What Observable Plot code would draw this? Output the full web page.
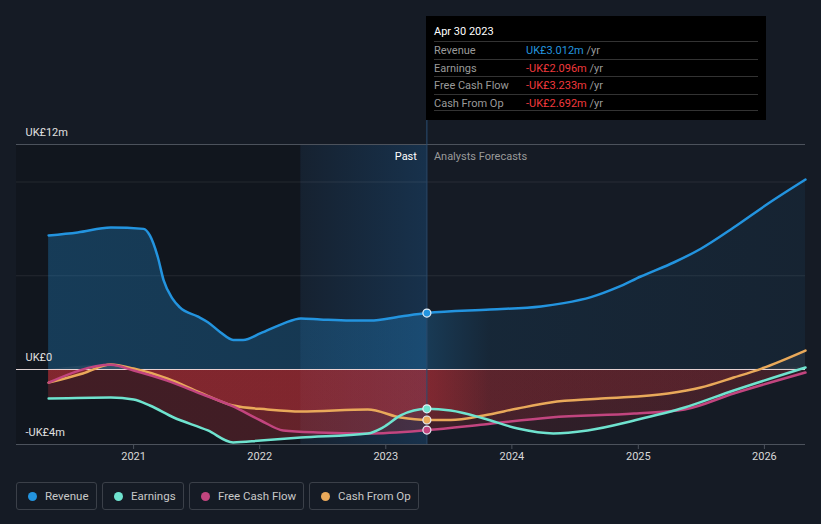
<!DOCTYPE html>
<html>
<head>
<meta charset="utf-8">
<script src="https://cdn.jsdelivr.net/npm/d3@7"></script>
<script src="https://cdn.jsdelivr.net/npm/@observablehq/plot@0.6"></script>
<style>
  html, body { margin:0; padding:0; background:#151b25; width:821px; height:524px; overflow:hidden; font-family: Roboto, "Noto Sans", sans-serif; }
  #wrap { position:relative; width:821px; height:524px; }
  #chart svg { display:block; overflow:visible; }
  #tip { position:absolute; left:426px; top:16px; width:340px; height:104px; background:#000; color:#999; font-size:11px; }
  #tip .date { position:absolute; left:8px; top:9px; color:#fff; font-size:11px; }
  #tip .row { position:absolute; left:8px; width:324px; height:17px; border-top:1px solid #333; }
  #tip .lab { position:absolute; top:2px; left:0; color:#9a9a9a; }
  #tip .val { position:absolute; top:2px; left:92px; white-space:nowrap; }
  #tip .unit { color:#9a9a9a; }
  #tip .last { position:absolute; left:8px; width:324px; top:94px; border-top:1px solid #333; }
  #legend { position:absolute; left:16px; top:482px; display:flex; gap:5px; }
  #legend .item { box-sizing:border-box; height:28px; border:1px solid #3b4049; border-radius:3px; display:flex; align-items:center; padding-left:11px; color:#c8c8c8; font-size:11.5px; }
  #legend .dot { width:9px; height:9px; border-radius:50%; margin-right:8px; }
</style>
</head>
<body>
<div id="wrap">
  <div id="chart"></div>
  <div id="tip"></div>
  <div id="legend"></div>
</div>
<script>
// ---------- data ----------
const seriesNames = ["Revenue", "Earnings", "Free Cash Flow", "Cash From Op"];
const seriesColors = ["#2394df", "#6fe3cf", "#c2457f", "#e9a95a"];

const revenueDates = ["2020-04-30","2020-07-23","2020-10-27","2021-01-30","2021-02-17","2021-03-12","2021-03-29","2021-04-23","2021-05-15","2021-07-05","2021-08-04","2021-09-09","2021-10-16","2021-11-14","2022-01-04","2022-03-10","2022-04-30","2022-06-25","2022-09-20","2022-11-17","2023-02-13","2023-04-30","2023-10-30","2024-03-25","2024-05-30","2024-08-17","2024-11-03","2025-01-08","2025-04-15","2025-07-01","2025-10-04","2026-01-12","2026-04-30"];
const revenueValues = [7.15,7.31,7.57,7.5,7.15,6.0,4.75,3.79,3.31,2.83,2.52,1.99,1.58,1.58,1.94,2.45,2.72,2.67,2.61,2.61,2.83,3.012,3.2,3.36,3.54,3.86,4.39,4.96,5.72,6.44,7.57,8.85,10.13];

const earningsDates = ["2020-04-30","2020-10-27","2021-01-01","2021-02-17","2021-04-27","2021-08-04","2021-10-16","2022-01-04","2022-04-30","2022-11-10","2022-12-24","2023-02-13","2023-04-30","2023-07-08","2023-10-12","2024-01-18","2024-04-30","2024-08-07","2024-12-20","2025-05-15","2025-10-04","2026-04-30"];
const earningsValues = [-1.55,-1.49,-1.6,-1.92,-2.56,-3.25,-3.89,-3.79,-3.63,-3.41,-3.09,-2.45,-2.096,-2.19,-2.61,-3.15,-3.41,-3.25,-2.72,-2.03,-1.12,0.11];

const fcfDates = ["2020-04-30","2020-10-27","2021-01-01","2021-04-08","2021-07-13","2021-10-16","2022-01-04","2022-03-10","2022-06-17","2022-11-10","2023-04-30","2023-10-12","2024-04-22","2024-12-20","2025-05-15","2025-10-04","2026-04-30"];
const fcfValues = [-0.7,0.25,-0.05,-0.59,-1.28,-1.97,-2.72,-3.25,-3.36,-3.41,-3.233,-2.93,-2.56,-2.35,-2.13,-1.28,-0.16];

const cfoDates = ["2020-04-30","2020-08-07","2020-10-27","2021-01-01","2021-04-08","2021-07-13","2021-10-16","2022-01-23","2022-04-30","2022-11-10","2023-02-13","2023-04-30","2023-07-08","2023-10-12","2024-01-18","2024-04-22","2024-09-16","2025-03-28","2025-07-01","2025-10-04","2025-12-24","2026-04-30"];
const cfoValues = [-0.7,-0.21,0.27,0.05,-0.48,-1.23,-1.92,-2.13,-2.24,-2.13,-2.56,-2.692,-2.69,-2.45,-2.08,-1.76,-1.55,-1.28,-0.96,-0.43,0.05,1.01];

const tipDate = "Apr 30 2023";
const tipValues = [3.012, -2.096, -3.233, -2.692];
const xTickYears = [2021, 2022, 2023, 2024, 2025, 2026];
const yTickValues = [-4, 0, 12];
const yTickLabels = ["-UK£4m", "UK£0", "UK£12m"];
const gridValues = [5, 10];
const domainStart = "2020-01-28";
const domainEnd = "2026-04-30";
const pastStart = "2022-04-30";
const nowDate = "2023-04-30";

// ---------- build ----------
const D = s => new Date(s + "T00:00:00Z");
const mk = (dates, vals) => dates.map((d, i) => ({date: D(d), v: vals[i]}));
const rev = mk(revenueDates, revenueValues);
const earn = mk(earningsDates, earningsValues);
const fcf = mk(fcfDates, fcfValues);
const cfo = mk(cfoDates, cfoValues);
const negSeries = [earn, fcf, cfo];
const curve = "monotone-x";
const nowD = D(nowDate);
const nowPts = tipValues.map((v, i) => ({date: nowD, v, c: seriesColors[i]}));

const plot = Plot.plot({
  width: 821, height: 470,
  marginLeft: 16, marginRight: 16, marginTop: 144, marginBottom: 26,
  x: {type: "utc", domain: [D(domainStart), D(domainEnd)], label: null},
  y: {domain: [-4, 12], label: null},
  style: {background: "transparent", color: "#d8d8d8", fontFamily: "Roboto, sans-serif", fontSize: "11px", overflow: "visible"},
  marks: [
    Plot.rect([0], {x1: D(domainStart), x2: D(pastStart), y1: -4, y2: 12, fill: "#0c0f14", fillOpacity: 0.4}),
    Plot.rect([0], {x1: D(pastStart), x2: nowD, y1: -4, y2: 12, fill: "url(#bandGrad)"}),
    Plot.ruleY(gridValues, {stroke: "#ffffff", strokeOpacity: 0.08}),
    Plot.ruleY([12], {stroke: "#4c525c"}),
    Plot.ruleY([-4], {stroke: "#4c525c"}),
    Plot.areaY(rev, {x: "date", y1: 0, y2: "v", curve, fill: "url(#revGrad)"}),
    ...negSeries.map(s => Plot.areaY(s, {x: "date", y1: 0, y2: d => Math.min(d.v, 0), curve, fill: "url(#negGrad)"})),
    ...negSeries.map(s => Plot.areaY(s, {x: "date", y1: 0, y2: d => Math.max(d.v, 0), curve, fill: "#ffffff", fillOpacity: 0.06})),
    Plot.ruleY([0], {stroke: "#f4e4e4", strokeOpacity: 0.9}),
    Plot.ruleX([nowD], {y1: -4, y2: 13.28, stroke: "#2a4e72", strokeWidth: 1}),
    Plot.line(cfo, {x: "date", y: "v", curve, stroke: seriesColors[3], strokeWidth: 2.5}),
    Plot.line(fcf, {x: "date", y: "v", curve, stroke: seriesColors[2], strokeWidth: 2.5}),
    Plot.line(earn, {x: "date", y: "v", curve, stroke: seriesColors[1], strokeWidth: 2.5}),
    Plot.line(rev, {x: "date", y: "v", curve, stroke: seriesColors[0], strokeWidth: 2.5}),
    Plot.dot(nowPts, {x: "date", y: "v", r: 4, fill: "c", stroke: "#e8eef5", strokeWidth: 1.2}),
    Plot.text(["Past"], {x: nowD, y: 11.36, text: d => d, textAnchor: "end", dx: -10, fill: "#ffffff"}),
    Plot.text(["Analysts Forecasts"], {x: nowD, y: 11.36, text: d => d, textAnchor: "start", dx: 7, fill: "#9a9a9a"}),
    Plot.axisX({ticks: xTickYears.map(y => D(y + "-01-01")), tickFormat: d3.utcFormat("%Y"), tickSize: 5, stroke: "#4c525c", fill: "#d8d8d8", tickPadding: 3, label: null}),
    Plot.axisY({ticks: yTickValues, tickFormat: v => yTickLabels[yTickValues.indexOf(v)], tickSize: 0, textAnchor: "start", dx: 12, dy: -12, fill: "#e0e0e0", tickPadding: 3, label: null})
  ]
});

// gradient defs
const svgSel = d3.select(plot);
const defs = svgSel.insert("defs", ":first-child");
const addGrad = (id, stops) => {
  const g = defs.append("linearGradient").attr("id", id).attr("gradientUnits", "userSpaceOnUse")
    .attr("x1", 16).attr("x2", 805).attr("y1", 0).attr("y2", 0);
  stops.forEach(([o, c, op]) => g.append("stop").attr("offset", o).attr("stop-color", c).attr("stop-opacity", op));
};
addGrad("revGrad", [[0, "#2394df", 0.3], [0.52, "#2394df", 0.26], [0.6, "#2394df", 0.1], [1, "#2394df", 0.07]]);
addGrad("negGrad", [[0, "#d5333a", 0.25], [0.52, "#d5333a", 0.24], [0.6, "#d5333a", 0.14], [1, "#d5333a", 0.12]]);
const bg = defs.append("linearGradient").attr("id", "bandGrad").attr("x1", 0).attr("x2", 1).attr("y1", 0).attr("y2", 0);
bg.append("stop").attr("offset", 0).attr("stop-color", "#1d6bb0").attr("stop-opacity", 0.08);
bg.append("stop").attr("offset", 1).attr("stop-color", "#1d6bb0").attr("stop-opacity", 0.28);

document.getElementById("chart").appendChild(plot);

// tooltip
const tip = document.getElementById("tip");
const fmt = v => (v < 0 ? "-" : "") + "UK£" + Math.abs(v).toFixed(3) + "m";
let html = `<div class="date">${tipDate}</div>`;
seriesNames.forEach((n, i) => {
  const top = 25 + i * 17.5;
  const col = tipValues[i] < 0 ? "#f0393c" : "#2394df";
  html += `<div class="row" style="top:${top}px"><span class="lab">${n}</span><span class="val"><span style="color:${col}">${fmt(tipValues[i])}</span><span class="unit"> /yr</span></span></div>`;
});
html += `<div class="last"></div>`;
tip.innerHTML = html;

// legend
const widths = [81, 82, 115, 110];
const legend = document.getElementById("legend");
seriesNames.forEach((n, i) => {
  const it = document.createElement("div");
  it.className = "item";
  it.style.width = widths[i] + "px";
  it.innerHTML = `<span class="dot" style="background:${seriesColors[i]}"></span><span>${n}</span>`;
  legend.appendChild(it);
});
</script>
</body>
</html>
